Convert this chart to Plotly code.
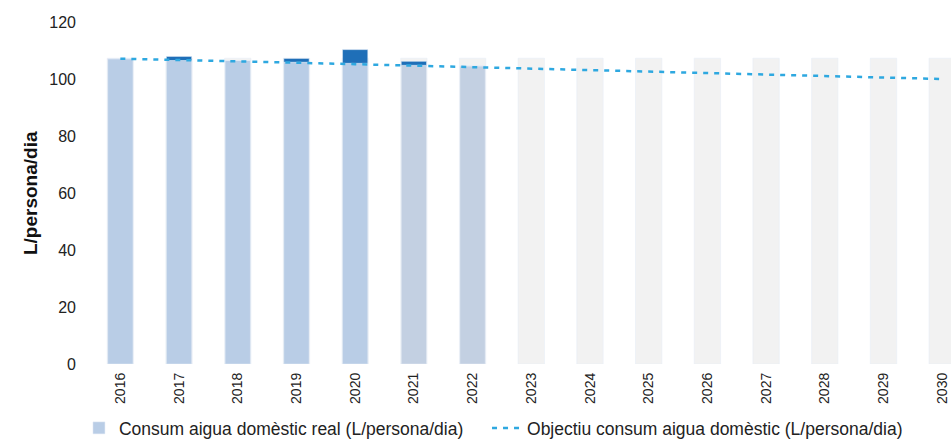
import plotly.graph_objects as go

years = [str(y) for y in range(2016, 2031)]
target_bg = [107.3] * 15
real_years = ["2016", "2017", "2018", "2019", "2020", "2021", "2022"]
real_base = [107.1, 106.5, 106.5, 105.9, 105.5, 104.8, 104.6]
real_excess = [0.0, 1.4, 0.0, 1.3, 4.8, 1.4, 0.0]
objective = [107.1, 106.7, 106.2, 105.7, 105.2, 104.7, 104.2, 103.7, 103.2, 102.7,
             102.2, 101.7, 101.2, 100.7, 100.0]

light_colors = ["#b9cde6"] * 5 + ["#c3d0e2", "#c3d0e2"]

fig = go.Figure()
fig.add_trace(go.Bar(x=years, y=target_bg, marker_color="#f2f2f2", width=0.45,
                     showlegend=False, hoverinfo="skip"))
fig.add_trace(go.Bar(x=real_years, y=real_base, marker_color=light_colors, width=0.43,
                     name="Consum aigua domèstic real (L/persona/dia)", legend="legend"))
fig.add_trace(go.Bar(x=real_years, y=real_excess, base=real_base, marker_color="#1f6fb8",
                     width=0.43, showlegend=False))
fig.add_trace(go.Scatter(x=years, y=objective, mode="lines",
                         line=dict(color="#2ea8e0", width=2.5, dash="5px,6px"),
                         name="Objectiu consum aigua domèstic (L/persona/dia)",
                         legend="legend2"))

legend_font = dict(size=17.5, color="#222", family="Liberation Sans, Arial")

fig.update_layout(
    width=951, height=446,
    margin=dict(l=91, r=0, t=22, b=78),
    barmode="overlay",
    plot_bgcolor="white", paper_bgcolor="white",
    font=dict(family="Liberation Sans, Arial", size=16, color="#222"),
    showlegend=True,
    legend=dict(orientation="h", x=-0.014, xanchor="left", y=-0.135, yanchor="top",
                font=legend_font, bgcolor="rgba(0,0,0,0)"),
    legend2=dict(orientation="h", x=0.4605, xanchor="left", y=-0.135, yanchor="top",
                 font=legend_font, bgcolor="rgba(0,0,0,0)"),
    yaxis=dict(range=[0, 120], dtick=20, showgrid=False, zeroline=False, showline=False,
               automargin=False, ticklabelstandoff=14, tickfont=dict(size=16)),
    xaxis=dict(type="category", range=[-0.5, 14.15], showgrid=False, showline=False,
               automargin=False, tickangle=-90, tickfont=dict(size=14), ticks="",
               ticklabelstandoff=5),
    annotations=[dict(text="<b>L/persona/dia</b>", xref="paper", yref="paper",
                      x=-0.0709, y=0.50, xanchor="center", yanchor="middle",
                      textangle=-90, showarrow=False,
                      font=dict(size=19, color="#111"))],
)

fig.write_html("out.html", config={"displayModeBar": False},
               post_script="document.body.style.margin='0';document.body.style.overflow='hidden';")
